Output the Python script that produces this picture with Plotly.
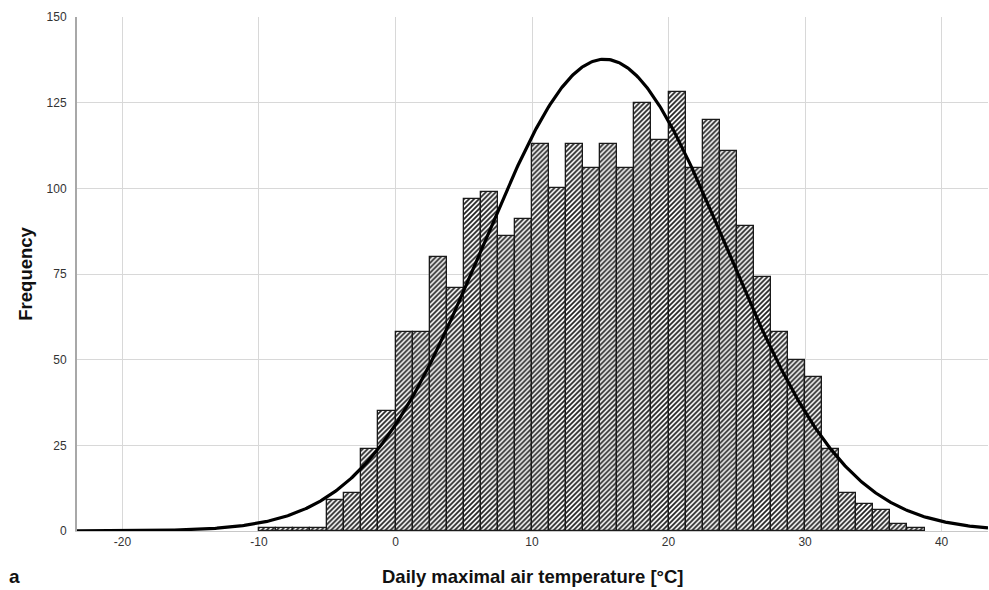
import numpy as np
import plotly.graph_objects as go

# ---- data ----
bin_low = [-10, -8.75, -7.5, -6.25, -5, -3.75, -2.5, -1.25, 0, 1.25, 2.5, 3.75,
           5, 6.25, 7.5, 8.75, 10, 11.25, 12.5, 13.75, 15, 16.25, 17.5, 18.75,
           20, 21.25, 22.5, 23.75, 25, 26.25, 27.5, 28.75, 30, 31.25, 32.5,
           33.75, 35, 36.25, 37.5]
frequency = [1, 1, 1, 1, 9, 11, 24, 35, 58, 58, 80, 71,
             97, 99, 86, 91, 113, 100, 113, 106, 113, 106, 125, 114,
             128, 106, 120, 111, 89, 74, 58, 50, 45, 24, 11,
             8, 6, 2, 1]
bin_width = 1.25
fit_mean = 15.3
fit_sd = 8.86
x_ticks = [-20, -10, 0, 10, 20, 30, 40]
y_ticks = [0, 25, 50, 75, 100, 125, 150]
x_range = [-23.33, 43.4]
y_range = [0, 150]

centers = [b + bin_width / 2 for b in bin_low]
n_total = sum(frequency)
xc = np.linspace(x_range[0], x_range[1], 600)
yc = n_total * bin_width / (fit_sd * np.sqrt(2 * np.pi)) * np.exp(-0.5 * ((xc - fit_mean) / fit_sd) ** 2)

fig = go.Figure()
fig.add_trace(go.Bar(
    x=centers, y=frequency, width=bin_width,
    marker=dict(color="white",
                line=dict(color="#1a1a1a", width=1.3),
                pattern=dict(shape="/", fgcolor="#222222", bgcolor="white",
                             size=3.5, solidity=0.5, fillmode="replace")),
    showlegend=False, hoverinfo="x+y"))
fig.add_trace(go.Scatter(x=xc, y=yc, mode="lines",
                         line=dict(color="black", width=3.2),
                         showlegend=False, hoverinfo="skip"))

fig.update_layout(
    width=989, height=590,
    margin=dict(l=77, r=1, t=17, b=59),
    plot_bgcolor="white", paper_bgcolor="white",
    bargap=0,
    font=dict(family="Arial, Liberation Sans, sans-serif", color="#333"),
    xaxis=dict(range=x_range, tickvals=x_ticks, ticktext=[str(v) for v in x_ticks],
               showgrid=True, gridcolor="#d8d8d8", gridwidth=1,
               zeroline=False, showline=True, linecolor="#c8c8c8", linewidth=1,
               ticks="", tickfont=dict(size=12, color="#333")),
    yaxis=dict(range=y_range, tickvals=y_ticks,
               showgrid=True, gridcolor="#d8d8d8", gridwidth=1,
               zeroline=False, showline=True, linecolor="#a8a8a8", linewidth=2,
               ticks="", ticklabelstandoff=6, tickfont=dict(size=12, color="#333")),
    annotations=[
        dict(text="<b>Daily maximal air temperature [°C]</b>", xref="paper", yref="paper",
             x=0.5, y=-0.088, xanchor="center", yanchor="middle", showarrow=False,
             font=dict(size=18.5, color="#111")),
        dict(text="<b>Frequency</b>", xref="paper", yref="paper", textangle=-90,
             x=-0.0574, y=0.5, xanchor="center", yanchor="middle", showarrow=False,
             font=dict(size=18.5, color="#111")),
        dict(text="<b>a</b>", xref="paper", yref="paper",
             x=-0.077, y=-0.088, xanchor="left", yanchor="middle", showarrow=False,
             font=dict(size=19, color="#111")),
    ],
)

fig.write_html("out.html")
